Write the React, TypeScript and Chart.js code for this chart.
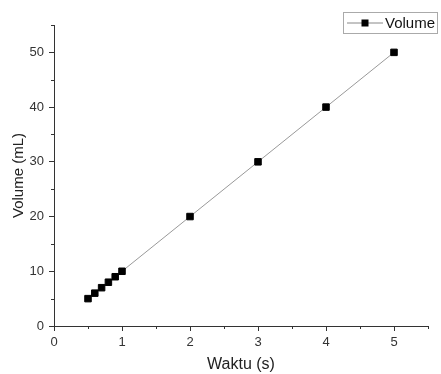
import React, { useEffect, useRef } from "react";
import { Chart, registerables } from "chart.js";

Chart.register(...registerables);

const waktu = [0.5, 0.6, 0.7, 0.8, 0.9, 1, 2, 3, 4, 5];
const volume = [5, 6, 7, 8, 9, 10, 20, 30, 40, 50];
const seriesName = "Volume";
const xTitle = "Waktu (s)";
const yTitle = "Volume (mL)";
const xMinorTicks = [0.5, 1.5, 2.5, 3.5, 4.5, 5.5];
const yMinorTicks = [5, 15, 25, 35, 45, 55];

const FONT = "'Liberation Sans', Arial, sans-serif";

export default function App() {
  const ref = useRef<HTMLCanvasElement | null>(null);

  useEffect(() => {
    document.body.style.margin = "0";
    const canvas = ref.current;
    if (!canvas) return;

    const minorTicks = {
      id: "minorTicks",
      afterDraw(chart: any) {
        const ctx = chart.ctx;
        const xs = chart.scales.x;
        const ys = chart.scales.y;
        ctx.save();
        ctx.strokeStyle = "#333";
        ctx.lineWidth = 1;
        ctx.beginPath();
        xMinorTicks.forEach((v) => {
          const px = Math.round(xs.getPixelForValue(v)) + 0.5;
          ctx.moveTo(px, xs.top);
          ctx.lineTo(px, xs.top + 3);
        });
        yMinorTicks.forEach((v) => {
          const py = Math.round(ys.getPixelForValue(v)) + 0.5;
          ctx.moveTo(ys.right, py);
          ctx.lineTo(ys.right - 3, py);
        });
        ctx.stroke();

        // legend box
        const bx = 343, by = 12, bw = 94, bh = 21;
        ctx.strokeStyle = "#aaa";
        ctx.strokeRect(bx + 0.5, by + 0.5, bw, bh);
        const cy = by + bh / 2 + 0.5;
        ctx.strokeStyle = "#888";
        ctx.beginPath();
        ctx.moveTo(bx + 4, cy);
        ctx.lineTo(bx + 40, cy);
        ctx.stroke();
        ctx.fillStyle = "#000";
        ctx.fillRect(bx + 22 - 3.5, cy - 3.5, 7, 7);
        ctx.font = `15px ${FONT}`;
        ctx.textBaseline = "middle";
        ctx.textAlign = "left";
        ctx.fillStyle = "#111";
        ctx.fillText(seriesName, bx + 42, cy + 1);
        ctx.restore();
      },
    };

    const chart = new Chart(canvas, {
      type: "scatter",
      data: {
        datasets: [
          {
            label: seriesName,
            data: waktu.map((x, i) => ({ x, y: volume[i] })),
            showLine: true,
            borderColor: "#999",
            borderWidth: 1,
            pointStyle: "rect",
            pointRadius: 4.6,
            pointBackgroundColor: "#000",
            pointBorderColor: "#000",
            pointBorderWidth: 1,
          },
        ],
      },
      options: {
        animation: false,
        responsive: false,
        layout: { padding: { left: 0, top: 25, right: 13, bottom: 0 } },
        plugins: { legend: { display: false }, tooltip: { enabled: false } },
        scales: {
          x: {
            type: "linear",
            min: 0,
            max: 5.5,
            afterFit: (s: any) => {
              s.height = 48;
            },
            ticks: {
              stepSize: 1,
              includeBounds: false,
              color: "#333",
              font: { family: FONT, size: 13 },
              padding: 4,
              maxRotation: 0,
            },
            grid: { drawOnChartArea: false, drawTicks: true, tickLength: 5, color: "#333" },
            border: { display: true, color: "#333", width: 1 },
            title: {
              display: true,
              text: xTitle,
              color: "#222",
              font: { family: FONT, size: 16 },
              padding: { top: 4, bottom: 0 },
            },
          },
          y: {
            type: "linear",
            min: 0,
            max: 55,
            afterFit: (s: any) => {
              s.width = 54;
            },
            ticks: {
              stepSize: 10,
              includeBounds: false,
              color: "#333",
              font: { family: FONT, size: 13 },
              padding: 5,
            },
            grid: { drawOnChartArea: false, drawTicks: true, tickLength: 5, color: "#333" },
            border: { display: true, color: "#333", width: 1 },
            title: {
              display: true,
              text: yTitle,
              color: "#222",
              font: { family: FONT, size: 15 },
              padding: { top: 10, bottom: 0 },
            },
          },
        },
      },
      plugins: [minorTicks],
    });

    return () => chart.destroy();
  }, []);

  return (
    <div style={{ width: 441, height: 374, background: "#fff" }}>
      <canvas ref={ref} width={441} height={374} style={{ display: "block" }} />
    </div>
  );
}
